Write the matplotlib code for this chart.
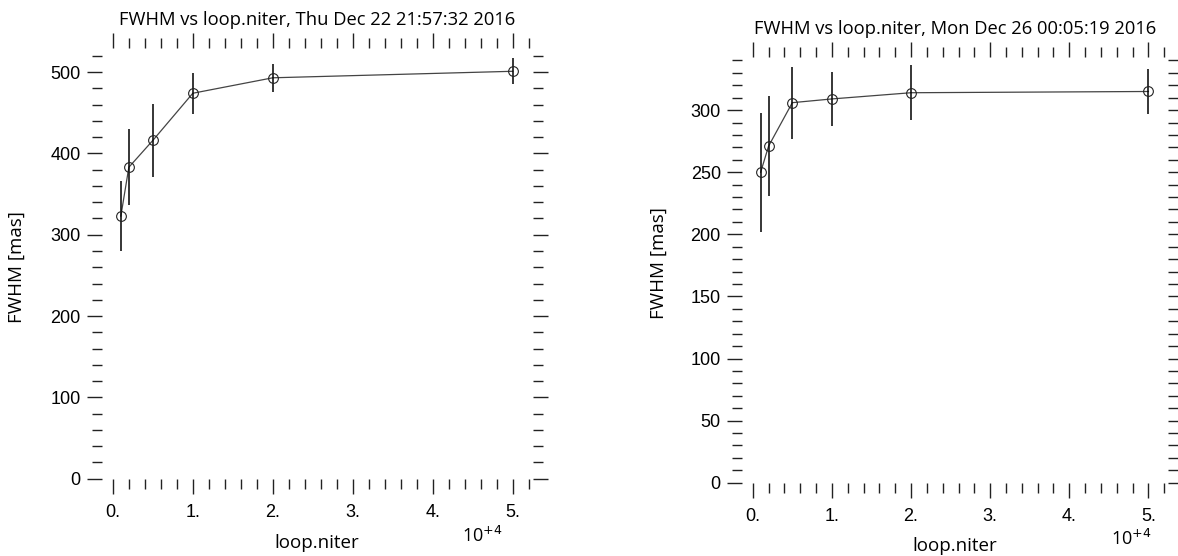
import matplotlib
matplotlib.use("Agg")
import matplotlib.pyplot as plt
from matplotlib.ticker import MultipleLocator, FuncFormatter

# loop.niter values (plotted in units of 1e4)
niter = [1000, 2000, 5000, 10000, 20000, 50000]

# run of Thu Dec 22
fwhm_dec22 = [323, 383, 416, 474, 493, 501]
err_dec22 = [43, 47, 45, 25, 17, 16]

# run of Mon Dec 26
fwhm_dec26 = [250, 271, 306, 309, 314, 315]
err_dec26 = [48, 40, 29, 22, 22, 18]

titles = ["FWHM vs loop.niter, Thu Dec 22 21:57:32 2016",
          "FWHM vs loop.niter, Mon Dec 26 00:05:19 2016"]

TICK_FONT = "Liberation Sans"
TEXT_FONT = "Open Sans"


def plot_fwhm(ax, fwhm, err, title, ytop, ymajor, yminor, title_pad):
    x = [n / 1e4 for n in niter]
    ax.plot(x, fwhm, color="#444444", lw=0.9, zorder=2)
    ax.errorbar(x, fwhm, yerr=err, fmt="none", ecolor="black", elinewidth=1.1,
                capsize=0, zorder=3)
    ax.plot(x, fwhm, "o", ms=7.0, mfc="none", mec="#222222", mew=0.8, zorder=4)

    ax.set_xlim(-0.14, 5.25)
    ax.set_ylim(0, ytop)
    for s in ax.spines.values():
        s.set_visible(False)

    ax.xaxis.set_major_locator(MultipleLocator(1))
    ax.xaxis.set_minor_locator(MultipleLocator(0.2))
    ax.yaxis.set_major_locator(MultipleLocator(ymajor))
    ax.yaxis.set_minor_locator(MultipleLocator(yminor))
    ax.xaxis.set_major_formatter(FuncFormatter(lambda v, p: f"{int(round(v))}."))
    ax.yaxis.set_major_formatter(FuncFormatter(lambda v, p: f"{int(round(v))}"))

    ax.tick_params(which="both", direction="out", top=True, right=True,
                   labeltop=False, labelright=False, color="#222222", width=1.0)
    ax.tick_params(which="major", length=11)
    ax.tick_params(which="minor", length=7.5)
    ax.tick_params(axis="x", which="major", pad=7)
    ax.tick_params(axis="y", which="major", pad=4)
    for lab in ax.get_xticklabels() + ax.get_yticklabels():
        lab.set_fontfamily(TICK_FONT)
        lab.set_fontsize(13)

    ax.set_title(title, fontsize=13.2, family=TEXT_FONT, pad=title_pad)
    ax.set_xlabel("loop.niter", fontsize=13.5, family=TEXT_FONT)
    ax.set_ylabel("FWHM [mas]", fontsize=13.5, family=TEXT_FONT)


fig = plt.figure(figsize=(11.78, 5.56), dpi=100)
ax1 = fig.add_axes([0.0863, 0.139, 0.3659, 0.7752])
ax2 = fig.add_axes([0.6296, 0.1318, 0.3621, 0.7662])

plot_fwhm(ax1, fwhm_dec22, err_dec22, titles[0], 530, 100, 20, 16)
plot_fwhm(ax2, fwhm_dec26, err_dec26, titles[1], 343, 50, 10, 16)

ax1.xaxis.set_label_coords(0.5, -0.128)
ax2.xaxis.set_label_coords(0.5, -0.128)
ax1.yaxis.set_label_coords(-0.176, 0.49)
ax2.yaxis.set_label_coords(-0.173, 0.515)

fig.text(482 / 1178, 1 - 536 / 556, "10$^{+4}$", fontsize=13, family=TEXT_FONT,
         ha="center", va="center")
fig.text(1131 / 1178, 1 - 539 / 556, "10$^{+4}$", fontsize=13, family=TEXT_FONT,
         ha="center", va="center")

plt.savefig("out.png", dpi=100)
plt.close()
